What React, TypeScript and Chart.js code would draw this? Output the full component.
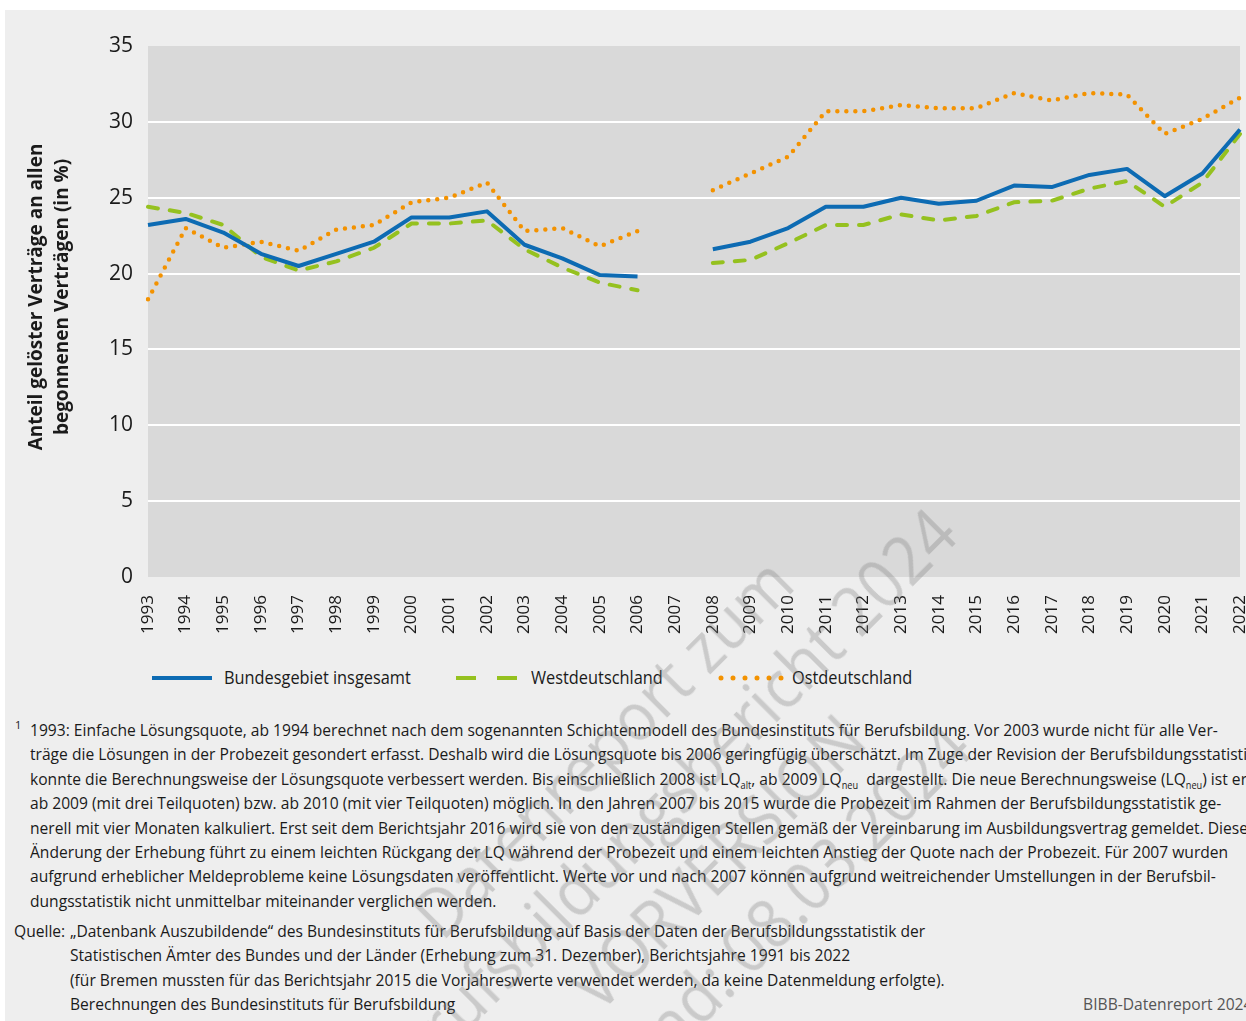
import React, { useEffect, useRef } from "react";
import { Chart, registerables } from "chart.js";

Chart.register(...registerables);

const FONT = '"Open Sans", "Noto Sans", sans-serif';

const years = [
  "1993", "1994", "1995", "1996", "1997", "1998", "1999", "2000", "2001", "2002",
  "2003", "2004", "2005", "2006", "2007", "2008", "2009", "2010", "2011", "2012",
  "2013", "2014", "2015", "2016", "2017", "2018", "2019", "2020", "2021", "2022",
];

const bundesgebiet = [
  23.2, 23.6, 22.7, 21.3, 20.5, 21.3, 22.1, 23.7, 23.7, 24.1,
  21.9, 21.0, 19.9, 19.8, null, 21.6, 22.1, 23.0, 24.4, 24.4,
  25.0, 24.6, 24.8, 25.8, 25.7, 26.5, 26.9, 25.1, 26.6, 29.5,
];

const westdeutschland = [
  24.4, 24.0, 23.2, 21.1, 20.2, 20.8, 21.7, 23.3, 23.3, 23.5,
  21.6, 20.4, 19.4, 18.9, null, 20.7, 20.9, 22.0, 23.2, 23.2,
  23.9, 23.5, 23.8, 24.7, 24.8, 25.6, 26.1, 24.4, 26.0, 29.2,
];

const ostdeutschland = [
  18.3, 23.0, 21.7, 22.1, 21.5, 22.9, 23.2, 24.7, 25.0, 26.0,
  22.8, 23.0, 21.8, 22.8, null, 25.5, 26.6, 27.7, 30.7, 30.7,
  31.1, 30.9, 30.9, 31.9, 31.4, 31.9, 31.8, 29.2, 30.2, 31.6,
];

const seriesNames = ["Bundesgebiet insgesamt", "Westdeutschland", "Ostdeutschland"];
const yTitle = ["Anteil gelöster Verträge an allen", "begonnenen Verträgen (in %)"];
const yTicks = [0, 5, 10, 15, 20, 25, 30, 35];

const BLUE = "#0d6bb3";
const GREEN = "#95c11f";
const ORANGE = "#f39200";

const footLines = [
  "1993: Einfache Lösungsquote, ab 1994 berechnet nach dem sogenannten Schichtenmodell des Bundesinstituts für Berufsbildung. Vor 2003 wurde nicht für alle Ver-",
  "träge die Lösungen in der Probezeit gesondert erfasst. Deshalb wird die Lösungsquote bis 2006 geringfügig überschätzt. Im Zuge der Revision der Berufsbildungsstatistik",
  "__L3__",
  "ab 2009 (mit drei Teilquoten) bzw. ab 2010 (mit vier Teilquoten) möglich. In den Jahren 2007 bis 2015 wurde die Probezeit im Rahmen der Berufsbildungsstatistik ge-",
  "nerell mit vier Monaten kalkuliert. Erst seit dem Berichtsjahr 2016 wird sie von den zuständigen Stellen gemäß der Vereinbarung im Ausbildungsvertrag gemeldet. Diese",
  "Änderung der Erhebung führt zu einem leichten Rückgang der LQ während der Probezeit und einem leichten Anstieg der Quote nach der Probezeit. Für 2007 wurden",
  "aufgrund erheblicher Meldeprobleme keine Lösungsdaten veröffentlicht. Werte vor und nach 2007 können aufgrund weitreichender Umstellungen in der Berufsbil-",
  "dungsstatistik nicht unmittelbar miteinander verglichen werden.",
];

const sourceLines = [
  "„Datenbank Auszubildende“ des Bundesinstituts für Berufsbildung auf Basis der Daten der Berufsbildungsstatistik der",
  "Statistischen Ämter des Bundes und der Länder (Erhebung zum 31. Dezember), Berichtsjahre 1991 bis 2022",
  "(für Bremen mussten für das Berichtsjahr 2015 die Vorjahreswerte verwendet werden, da keine Datenmeldung erfolgte).",
  "Berechnungen des Bundesinstituts für Berufsbildung",
];

const watermarkLines = ["Datenreport zum", "Berufsbildungsbericht 2024", "VORVERSION", "Stand: 08.03.2024"];

const CANVAS_W = 1260;
const CANVAS_H = 650;
const AREA_LEFT = 143;
const AREA_TOP = 36;
const AREA_RIGHT = 1235;
const AREA_BOTTOM = 567;

const FOOT_SCALE = 0.918;
const LEGEND_SCALE = 0.86;

export default function App() {
  const canvasRef = useRef<HTMLCanvasElement | null>(null);

  useEffect(() => {
    const canvas = canvasRef.current;
    if (!canvas) return;
    Chart.defaults.font.family = FONT;

    const plotBg = {
      id: "plotBg",
      beforeDraw(chart: any) {
        const { ctx, chartArea } = chart;
        ctx.save();
        ctx.fillStyle = "#d9d9d9";
        ctx.fillRect(chartArea.left, chartArea.top, chartArea.right - chartArea.left, chartArea.bottom - chartArea.top);
        ctx.restore();
      },
      afterDraw(chart: any) {
        const { ctx } = chart;
        ctx.save();
        ctx.translate(45, 287);
        ctx.rotate(-Math.PI / 2);
        ctx.font = `bold 19px ${FONT}`;
        ctx.fillStyle = "#1a1a1a";
        ctx.textAlign = "center";
        ctx.textBaseline = "middle";
        ctx.fillText(yTitle[0], 0, -13);
        ctx.fillText(yTitle[1], 0, 13);
        ctx.restore();
      },
    };

    const chart = new Chart(canvas, {
      type: "line",
      data: {
        labels: years,
        datasets: [
          {
            label: seriesNames[0],
            data: bundesgebiet,
            borderColor: BLUE,
            backgroundColor: BLUE,
            borderWidth: 4,
            pointRadius: 0,
            borderJoinStyle: "round",
            tension: 0,
            spanGaps: false,
          },
          {
            label: seriesNames[1],
            data: westdeutschland,
            borderColor: GREEN,
            backgroundColor: GREEN,
            borderWidth: 4,
            borderDash: [10, 12],
            borderCapStyle: "round",
            pointRadius: 0,
            tension: 0,
            spanGaps: false,
          },
          {
            label: seriesNames[2],
            data: ostdeutschland,
            borderColor: ORANGE,
            backgroundColor: ORANGE,
            borderWidth: 4.5,
            borderDash: [0, 9],
            borderCapStyle: "round",
            pointRadius: 0,
            tension: 0,
            spanGaps: false,
          },
        ],
      },
      options: {
        responsive: false,
        animation: false,
        layout: { padding: { top: AREA_TOP, right: CANVAS_W - AREA_RIGHT, left: 0, bottom: 0 } },
        plugins: {
          legend: { display: false },
          tooltip: { enabled: false },
          title: { display: false },
        },
        scales: {
          x: {
            offset: false,
            grid: { display: false, drawTicks: false },
            border: { display: false },
            ticks: {
              autoSkip: false,
              maxRotation: 90,
              minRotation: 90,
              padding: 18,
              color: "#1a1a1a",
              font: { size: 17, family: FONT },
            },
            afterFit(scale: any) {
              scale.height = CANVAS_H - AREA_BOTTOM;
              scale.paddingLeft = 0;
              scale.paddingRight = 0;
            },
          },
          y: {
            min: 0,
            max: 35,
            afterBuildTicks(scale: any) {
              scale.ticks = yTicks.map((v) => ({ value: v }));
            },
            grid: {
              drawTicks: false,
              lineWidth: 2,
              color: (ctx: any) =>
                ctx.tick && (ctx.tick.value === 0 || ctx.tick.value === 35) ? "rgba(0,0,0,0)" : "#ffffff",
            },
            border: { display: false },
            ticks: {
              padding: 15,
              color: "#1a1a1a",
              font: { size: 21, family: FONT },
            },
            afterFit(scale: any) {
              scale.width = AREA_LEFT;
              scale.paddingTop = 0;
              scale.paddingBottom = 0;
            },
          },
        },
      },
      plugins: [plotBg],
    });

    return () => chart.destroy();
  }, []);

  const textColor = "#1a1a1a";

  const renderFootLine = (line: string) => {
    if (line !== "__L3__") return line;
    return (
      <>
        konnte die Berechnungsweise der Lösungsquote verbessert werden. Bis einschließlich 2008 ist LQ
        <sub style={{ fontSize: 10, verticalAlign: "-4px" }}>alt</sub>, ab 2009 LQ
        <sub style={{ fontSize: 10, verticalAlign: "-4px" }}>neu</sub>&nbsp; dargestellt. Die neue Berechnungsweise (LQ
        <sub style={{ fontSize: 10, verticalAlign: "-4px" }}>neu</sub>) ist erst
      </>
    );
  };

  const legendText = (left: number, text: string) => (
    <div
      style={{
        position: "absolute",
        left,
        top: 0,
        lineHeight: "24px",
        whiteSpace: "nowrap",
        transform: `scaleX(${LEGEND_SCALE})`,
        transformOrigin: "0 50%",
      }}
    >
      {text}
    </div>
  );

  return (
    <div
      style={{
        position: "absolute",
        left: 5,
        top: 10,
        width: 1241,
        height: 1011,
        background: "#eeeeee",
        overflow: "hidden",
        fontFamily: FONT,
        color: textColor,
      }}
    >
      <div style={{ position: "absolute", left: 0, top: 0, width: CANVAS_W, height: CANVAS_H }}>
        <canvas ref={canvasRef} width={CANVAS_W} height={CANVAS_H} style={{ display: "block", width: CANVAS_W, height: CANVAS_H }} />
      </div>

      {/* Legend */}
      <div style={{ position: "absolute", left: 0, top: 655, width: 1241, height: 26, fontSize: 19 }}>
        <svg style={{ position: "absolute", left: 147, top: 8 }} width={62} height={10}>
          <line x1={0} y1={5} x2={60} y2={5} stroke={BLUE} strokeWidth={4} />
        </svg>
        {legendText(219, seriesNames[0])}
        <svg style={{ position: "absolute", left: 451, top: 8 }} width={64} height={10}>
          <line x1={0} y1={5} x2={62} y2={5} stroke={GREEN} strokeWidth={4} strokeDasharray="20 21" />
        </svg>
        {legendText(526, seriesNames[1])}
        <svg style={{ position: "absolute", left: 713, top: 7 }} width={70} height={12}>
          <line x1={3} y1={6} x2={64} y2={6} stroke={ORANGE} strokeWidth={5} strokeLinecap="round" strokeDasharray="0 12" />
        </svg>
        {legendText(787, seriesNames[2])}
      </div>

      {/* Footnote */}
      <div style={{ position: "absolute", left: 10, top: 708, fontSize: 17, lineHeight: "24.4px", whiteSpace: "nowrap" }}>
        <span style={{ position: "absolute", left: 0, top: -5, fontSize: 11 }}>1</span>
        <div style={{ position: "absolute", left: 15, top: 0, transform: `scaleX(${FOOT_SCALE})`, transformOrigin: "0 0" }}>
          {footLines.map((l, i) => (
            <div key={i} style={{ height: 24.4 }}>{renderFootLine(l)}</div>
          ))}
        </div>
      </div>

      {/* Source */}
      <div style={{ position: "absolute", left: 9, top: 909, fontSize: 17, lineHeight: "24.4px", whiteSpace: "nowrap" }}>
        <div style={{ position: "absolute", left: 0, top: 0, transform: `scaleX(${FOOT_SCALE})`, transformOrigin: "0 0" }}>Quelle:</div>
        <div style={{ position: "absolute", left: 56, top: 0, transform: `scaleX(${FOOT_SCALE})`, transformOrigin: "0 0" }}>
          {sourceLines.map((l, i) => (
            <div key={i} style={{ height: 24.4 }}>{l}</div>
          ))}
        </div>
      </div>
      <div
        style={{
          position: "absolute",
          right: -6,
          top: 982,
          fontSize: 17,
          lineHeight: "24.4px",
          color: "#555555",
          whiteSpace: "nowrap",
          transform: `scaleX(${FOOT_SCALE})`,
          transformOrigin: "100% 0",
        }}
      >
        BIBB-Datenreport 2024
      </div>

      {/* Watermark */}
      <div
        style={{
          position: "absolute",
          left: 682 - 500,
          top: 822 - 200,
          width: 1000,
          height: 400,
          display: "flex",
          flexDirection: "column",
          justifyContent: "center",
          alignItems: "center",
          transform: "rotate(-45deg) scaleX(0.92)",
          fontSize: 68,
          lineHeight: "81px",
          color: "rgba(120,120,120,0.3)",
          pointerEvents: "none",
          whiteSpace: "nowrap",
        }}
      >
        {watermarkLines.map((l, i) => (
          <div key={i}>{l}</div>
        ))}
      </div>
    </div>
  );
}
